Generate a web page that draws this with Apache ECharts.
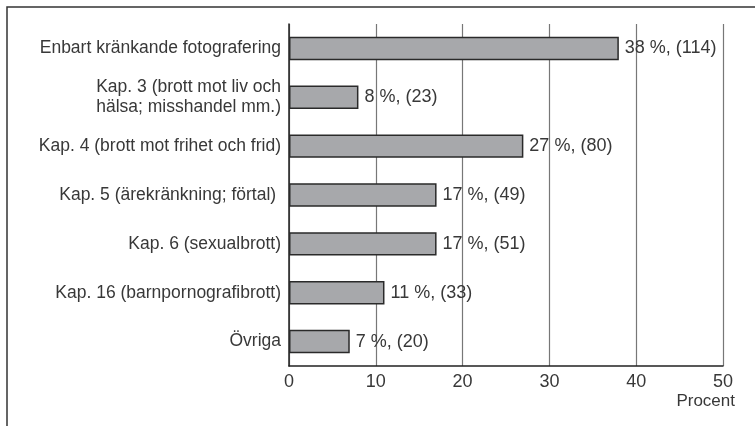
<!DOCTYPE html>
<html>
<head>
<meta charset="utf-8">
<script src="https://cdn.jsdelivr.net/npm/echarts@6/dist/echarts.min.js"></script>
<style>
  html, body { margin: 0; padding: 0; background: #fff; }
  #chart { width: 755px; height: 426px; }
</style>
</head>
<body>
<div id="chart"></div>
<script>
const categories = [
  "Enbart kränkande fotografering",
  "Kap. 3 (brott mot liv och\nhälsa; misshandel mm.)",
  "Kap. 4 (brott mot frihet och frid)",
  "Kap. 5 (ärekränkning; förtal) ",
  "Kap. 6 (sexualbrott)",
  "Kap. 16 (barnpornografibrott)",
  "Övriga"
];
const percents = [38, 8, 27, 17, 17, 11, 7];
const counts = [114, 23, 80, 49, 51, 33, 20];
const xTicks = [0, 10, 20, 30, 40, 50];

const font = "'Liberation Sans', Arial, sans-serif";
const textColor = "#383838";

const chart = echarts.init(document.getElementById("chart"), null, { renderer: "canvas" });

chart.setOption({
  animation: false,
  backgroundColor: "#fff",
  textStyle: { fontFamily: font },
  grid: { left: 289, right: 32, top: 24, bottom: 60, containLabel: false },
  xAxis: {
    type: "value",
    min: xTicks[0],
    max: xTicks[xTicks.length - 1],
    interval: 10,
    axisLine: { show: true, lineStyle: { color: "#222", width: 1.5 } },
    axisTick: { show: false },
    axisLabel: { color: textColor, fontSize: 18, fontFamily: font, margin: 7 },
    splitLine: { show: true, lineStyle: { color: "#777", width: 1.2 } }
  },
  yAxis: {
    type: "category",
    inverse: true,
    data: categories,
    axisLine: { show: true, lineStyle: { color: "#222", width: 1.5 } },
    axisTick: { show: false },
    axisLabel: { color: textColor, fontSize: 17.5, fontFamily: font, margin: 8, lineHeight: 20 }
  },
  series: [{
    type: "bar",
    data: percents,
    barCategoryGap: "52%",
    itemStyle: { color: "#a7a8ab", borderColor: "#2a2a2a", borderWidth: 1.5 },
    label: {
      show: true,
      position: "right",
      distance: 6,
      color: textColor,
      fontSize: 18,
      fontFamily: font,
      formatter: (p) => p.value + " %, (" + counts[p.dataIndex] + ")"
    },
    z: 1
  }],
  graphic: [
    {
      type: "rect",
      shape: { x: 7, y: 7, width: 900, height: 600 },
      style: { fill: null, stroke: "#333", lineWidth: 1.5 },
      silent: true
    },
    {
      type: "text",
      right: 20,
      top: 393,
      style: { text: "Procent", fill: textColor, fontSize: 17, fontFamily: font }
    }
  ]
});
</script>
</body>
</html>
